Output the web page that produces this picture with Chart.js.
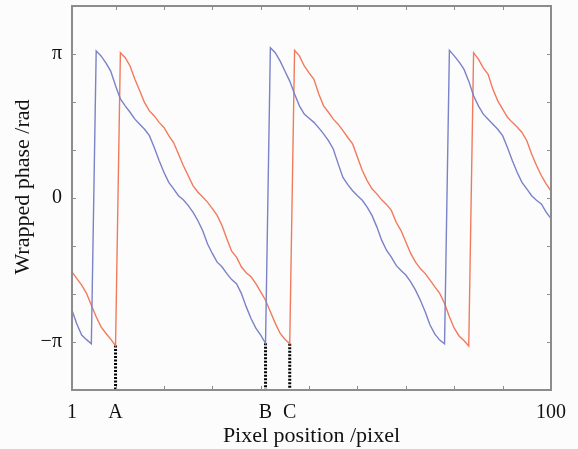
<!DOCTYPE html>
<html>
<head>
<meta charset="utf-8">
<script src="https://cdn.jsdelivr.net/npm/chart.js@4/dist/chart.umd.min.js"></script>
<style>
  body { margin: 0; background: #fcfcfc; }
</style>
</head>
<body>
<canvas id="phase" width="578" height="449"></canvas>
<script>
// pixel positions along the row
const pixelPos = [
  1, 2, 3, 4, 5, 6, 7, 8, 9, 10, 11, 12, 13, 14, 15, 16, 17, 18, 19, 20,
  21, 22, 23, 24, 25, 26, 27, 28, 29, 30, 31, 32, 33, 34, 35, 36, 37, 38, 39, 40,
  41, 42, 43, 44, 45, 46, 47, 48, 49, 50, 51, 52, 53, 54, 55, 56, 57, 58, 59, 60,
  61, 62, 63, 64, 65, 66, 67, 68, 69, 70, 71, 72, 73, 74, 75, 76, 77, 78, 79, 80,
  81, 82, 83, 84, 85, 86, 87, 88, 89, 90, 91, 92, 93, 94, 95, 96, 97, 98, 99, 100
];

// wrapped phase (rad), blue curve
const phaseBlue = [
  -2.45, -2.75, -2.99, -3.09, -3.18, 3.21, 3.10, 2.95, 2.77, 2.45,
  2.16, 2.01, 1.87, 1.72, 1.61, 1.50, 1.36, 1.10, 0.82, 0.56,
  0.34, 0.20, 0.05, -0.04, -0.16, -0.31, -0.49, -0.71, -1.00, -1.21,
  -1.40, -1.50, -1.65, -1.78, -1.87, -2.08, -2.37, -2.63, -2.84, -2.99,
  -3.17, 3.28, 3.17, 2.99, 2.77, 2.55, 2.27, 2.01, 1.83, 1.74,
  1.65, 1.53, 1.40, 1.25, 1.07, 0.75, 0.45, 0.29, 0.16, 0.05,
  -0.05, -0.20, -0.38, -0.63, -0.92, -1.14, -1.29, -1.47, -1.58, -1.68,
  -1.83, -2.01, -2.23, -2.48, -2.77, -2.97, -3.10, -3.18, 3.22, 3.10,
  2.97, 2.81, 2.55, 2.23, 2.01, 1.83, 1.72, 1.61, 1.50, 1.36,
  1.10, 0.82, 0.56, 0.34, 0.20, 0.05, -0.05, -0.13, -0.31, -0.45
];

// wrapped phase (rad), red curve
const phaseRed = [
  -1.61, -1.76, -1.90, -2.08, -2.34, -2.59, -2.81, -2.95, -3.08, -3.22,
  3.17, 3.06, 2.88, 2.59, 2.34, 2.08, 1.90, 1.79, 1.65, 1.54,
  1.36, 1.21, 0.96, 0.71, 0.49, 0.27, 0.13, 0.02, -0.09, -0.23,
  -0.38, -0.60, -0.89, -1.16, -1.29, -1.50, -1.63, -1.72, -1.87, -2.05,
  -2.23, -2.48, -2.73, -2.95, -3.08, -3.18, 3.22, 3.10, 2.88, 2.73,
  2.59, 2.27, 2.01, 1.87, 1.72, 1.61, 1.47, 1.32, 1.18, 0.89,
  0.60, 0.38, 0.20, 0.09, -0.04, -0.14, -0.27, -0.53, -0.71, -0.96,
  -1.21, -1.40, -1.54, -1.65, -1.79, -1.94, -2.08, -2.30, -2.59, -2.84,
  -3.01, -3.11, -3.23, 3.17, 3.03, 2.84, 2.70, 2.37, 2.12, 1.94,
  1.76, 1.65, 1.55, 1.43, 1.25, 0.96, 0.71, 0.49, 0.31, 0.15
];

// marked wrap points A, B, C and the curve each one sits on
const markPos = [10, 41, 46];
const markCurve = ['red', 'blue', 'red'];

// x tick labels and where they sit
const xLabelPos = [1, 10, 41, 46, 100];
const xLabelText = ['1', 'A', 'B', 'C', '100'];
const xMinorPos = [10, 20, 30, 40, 50, 60, 70, 80, 90];

// y tick labels
const yLabelPos = [-Math.PI, 0, Math.PI];
const yLabelText = ['\u2212\u03c0', '0', '\u03c0'];
const yMinorPos = [-Math.PI, -2 * Math.PI / 3, -Math.PI / 3, 0, Math.PI / 3, 2 * Math.PI / 3, Math.PI];

const yMin = -4 * Math.PI / 3;
const yMax = 4 * Math.PI / 3;
const yTitle = 'Wrapped phase /rad';

const blueColor = '#7a82c8';
const redColor = '#f27a5c';
const frameColor = '#8c8c8c';
const serif = "'Liberation Serif', 'DejaVu Serif', serif";

let toPoints = (ys) => pixelPos.map((p, i) => ({ x: p, y: ys[i] }));

let markSets = markPos.map((p, k) => {
    let ys = markCurve[k] === 'red' ? phaseRed : phaseBlue;
    let top = ys[pixelPos.indexOf(p)];
    return {
        data: [{ x: p, y: top }, { x: p, y: yMin }],
        borderColor: '#000',
        borderWidth: 3,
        borderDash: [2, 1.5],
        pointRadius: 0
    };
});

// frame round the plot, inward tick marks on all four sides, y title
const frameTicks = {
    id: 'frameTicks',
    afterDatasetsDraw(chart) {
        const { ctx, chartArea: a, scales: { x, y } } = chart;
        ctx.save();
        ctx.strokeStyle = frameColor;
        ctx.lineWidth = 1;
        ctx.beginPath();
        xMinorPos.forEach(v => {
            let px = Math.round(x.getPixelForValue(v)) + 0.5;
            ctx.moveTo(px, a.bottom); ctx.lineTo(px, a.bottom - 4);
            ctx.moveTo(px, a.top); ctx.lineTo(px, a.top + 4);
        });
        yMinorPos.forEach(v => {
            let py = Math.round(y.getPixelForValue(v)) + 0.5;
            ctx.moveTo(a.left, py); ctx.lineTo(a.left + 4, py);
            ctx.moveTo(a.right, py); ctx.lineTo(a.right - 4, py);
        });
        ctx.stroke();
        ctx.lineWidth = 2;
        ctx.strokeRect(a.left, a.top, a.right - a.left, a.bottom - a.top);

        // y title sits a little above the middle of the axis
        ctx.translate(23, (a.top + a.bottom) / 2 - 11);
        ctx.rotate(-Math.PI / 2);
        ctx.fillStyle = '#111';
        ctx.font = "22px " + serif;
        ctx.textAlign = 'center';
        ctx.textBaseline = 'middle';
        ctx.fillText(yTitle, 0, 0);
        ctx.restore();
    }
};

let ctx = document.getElementById('phase').getContext('2d');
let chart = new Chart(ctx, {
    type: 'line',
    data: {
        datasets: [
            {
                data: toPoints(phaseBlue),
                borderColor: blueColor,
                borderWidth: 1.4,
                pointRadius: 0
            },
            {
                data: toPoints(phaseRed),
                borderColor: redColor,
                borderWidth: 1.4,
                pointRadius: 0
            }
        ].concat(markSets)
    },
    options: {
        responsive: false,
        animation: false,
        layout: { padding: { top: 6, right: 27, left: 0, bottom: 0 } },
        plugins: { legend: { display: false }, tooltip: { enabled: false } },
        scales: {
            x: {
                type: 'linear',
                min: 1,
                max: 100,
                grid: { display: false, drawTicks: false },
                border: { display: false },
                afterBuildTicks: (s) => { s.ticks = xLabelPos.map(v => ({ value: v })); },
                afterFit: (s) => { s.height = 59; s.paddingLeft = 0; s.paddingRight = 0; },
                ticks: {
                    autoSkip: false,
                    maxRotation: 0,
                    padding: 11,
                    color: '#111',
                    font: { family: serif, size: 20 },
                    callback: (v) => xLabelText[xLabelPos.indexOf(v)]
                },
                title: {
                    display: true,
                    text: 'Pixel position /pixel',
                    color: '#111',
                    font: { family: serif, size: 22 },
                    padding: { top: 0, bottom: 0 }
                }
            },
            y: {
                min: yMin,
                max: yMax,
                grid: { display: false, drawTicks: false },
                border: { display: false },
                afterBuildTicks: (s) => { s.ticks = yLabelPos.map(v => ({ value: v })); },
                afterFit: (s) => { s.width = 72; s.paddingTop = 0; s.paddingBottom = 0; },
                ticks: {
                    padding: 10,
                    color: '#111',
                    font: { family: serif, size: 20 },
                    callback: (v) => yLabelText[yLabelPos.indexOf(v)]
                }
            }
        }
    },
    plugins: [frameTicks]
});
</script>
</body>
</html>
